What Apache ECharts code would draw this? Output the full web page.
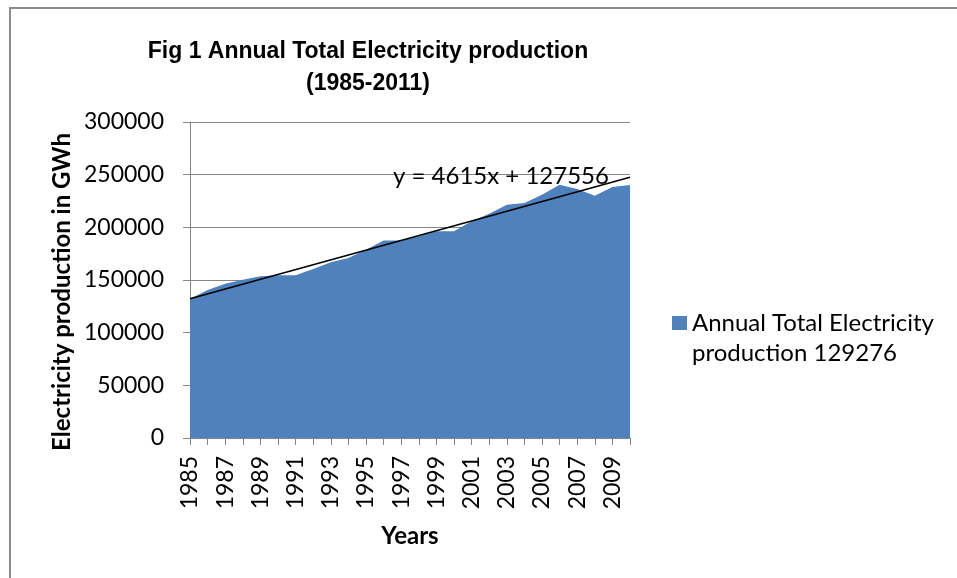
<!DOCTYPE html>
<html>
<head>
<meta charset="utf-8">
<script src="https://cdn.jsdelivr.net/npm/echarts@6/dist/echarts.min.js"></script>
<style>
  html, body { margin: 0; padding: 0; background: #fff; }
  #main { width: 957px; height: 578px; }
</style>
</head>
<body>
<div id="main"></div>
<script>
// categories as printed on the axis
var years = ["1985", "1986", "1987", "1988", "1989", "1990", "1991", "1992", "1993",
  "1994", "1995", "1996", "1997", "1998", "1999", "2000", "2001", "2002", "2003",
  "2004", "2005", "2006", "2007", "2008", "2009", "2010"];

// annual production, GWh
var production = [132000, 140500, 146500, 150300, 153500, 154400, 154400, 160500, 166800,
  170900, 178800, 187400, 187400, 191500, 196200, 196200, 205700, 213000, 221500,
  223100, 231000, 240500, 236400, 230100, 238300, 240200];

// linear trend end points (y = 4615x + 127556, x = 1..26)
var trendEnds = [132171, 247546];
var trendLabel = "y = 4615x + 127556";

var yTicks = [0, 300000, 50000]; // min, max, interval

var font = "Lato";
var myChart = echarts.init(document.getElementById("main"));
var option = {
  animation: false,
  title: {
    text: "Fig 1 Annual Total Electricity production\n(1985-2011)",
    left: 363,
    top: 31,
    textAlign: "center",
    textStyle: {
      fontFamily: "Liberation Sans",
      fontWeight: "bold",
      fontSize: 23,
      lineHeight: 32,
      color: "#000"
    }
  },
  graphic: [
    {
      type: "polyline",
      shape: { points: [[10, 578], [10, 8], [957, 8]] },
      style: { stroke: "#8c8c8c", lineWidth: 2, fill: null }
    },
    {
      type: "text",
      left: 393,
      top: 164,
      style: { text: trendLabel, font: "24px " + font, fill: "#000" },
      z: 10
    }
  ],
  legend: {
    left: 667,
    top: 303,
    orient: "vertical",
    // square sits at the top of a 15x44 box so it lines up with the first text line
    icon: "path://M0,0L15,0L15,14L0,14Z M0,44L0.01,44",
    itemWidth: 15,
    itemHeight: 44,
    textStyle: {
      fontFamily: font,
      fontSize: 24,
      color: "#000",
      lineHeight: 30
    },
    data: ["Annual Total Electricity\nproduction 129276"]
  },
  grid: { left: 190, right: 327, top: 122, bottom: 140 },
  xAxis: {
    type: "category",
    data: years,
    boundaryGap: false,
    name: "Years",
    nameLocation: "middle",
    nameGap: 86,
    nameTextStyle: { fontFamily: font, fontWeight: "bold", fontSize: 24, color: "#000" },
    axisLine: { lineStyle: { color: "#868686", width: 1 } },
    axisTick: { show: true, interval: 0, length: 7, lineStyle: { color: "#868686" } },
    axisLabel: {
      interval: 1,
      rotate: 90,
      margin: 18,
      fontFamily: font,
      fontSize: 23,
      color: "#000"
    },
    splitLine: { show: false }
  },
  yAxis: {
    type: "value",
    min: yTicks[0],
    max: yTicks[1],
    interval: yTicks[2],
    name: "Electricity production in GWh",
    nameLocation: "middle",
    nameGap: 116,
    nameTextStyle: {
      fontFamily: font,
      fontWeight: "bold",
      fontSize: 24,
      color: "#000",
      padding: [0, 24, 0, 0]
    },
    axisLine: { show: true, lineStyle: { color: "#868686", width: 1 } },
    axisTick: { show: true, length: 7, lineStyle: { color: "#868686" } },
    axisLabel: {
      margin: 26,
      fontFamily: font,
      fontSize: 23,
      color: "#000",
      formatter: function (v) { return String(v); }
    },
    splitLine: { show: true, lineStyle: { color: "#868686", width: 1 } }
  },
  series: [
    {
      name: "Annual Total Electricity\nproduction 129276",
      type: "line",
      data: production,
      showSymbol: false,
      symbol: "none",
      lineStyle: { width: 0 },
      itemStyle: { color: "#4f81bd" },
      areaStyle: { color: "#4f81bd", opacity: 1 },
      markLine: {
        silent: true,
        symbol: "none",
        label: { show: false },
        lineStyle: { color: "#000", width: 1.6, type: "solid" },
        data: [[{ coord: [0, trendEnds[0]] }, { coord: [25, trendEnds[1]] }]]
      }
    }
  ]
};

option && myChart.setOption(option);
</script>
</body>
</html>
